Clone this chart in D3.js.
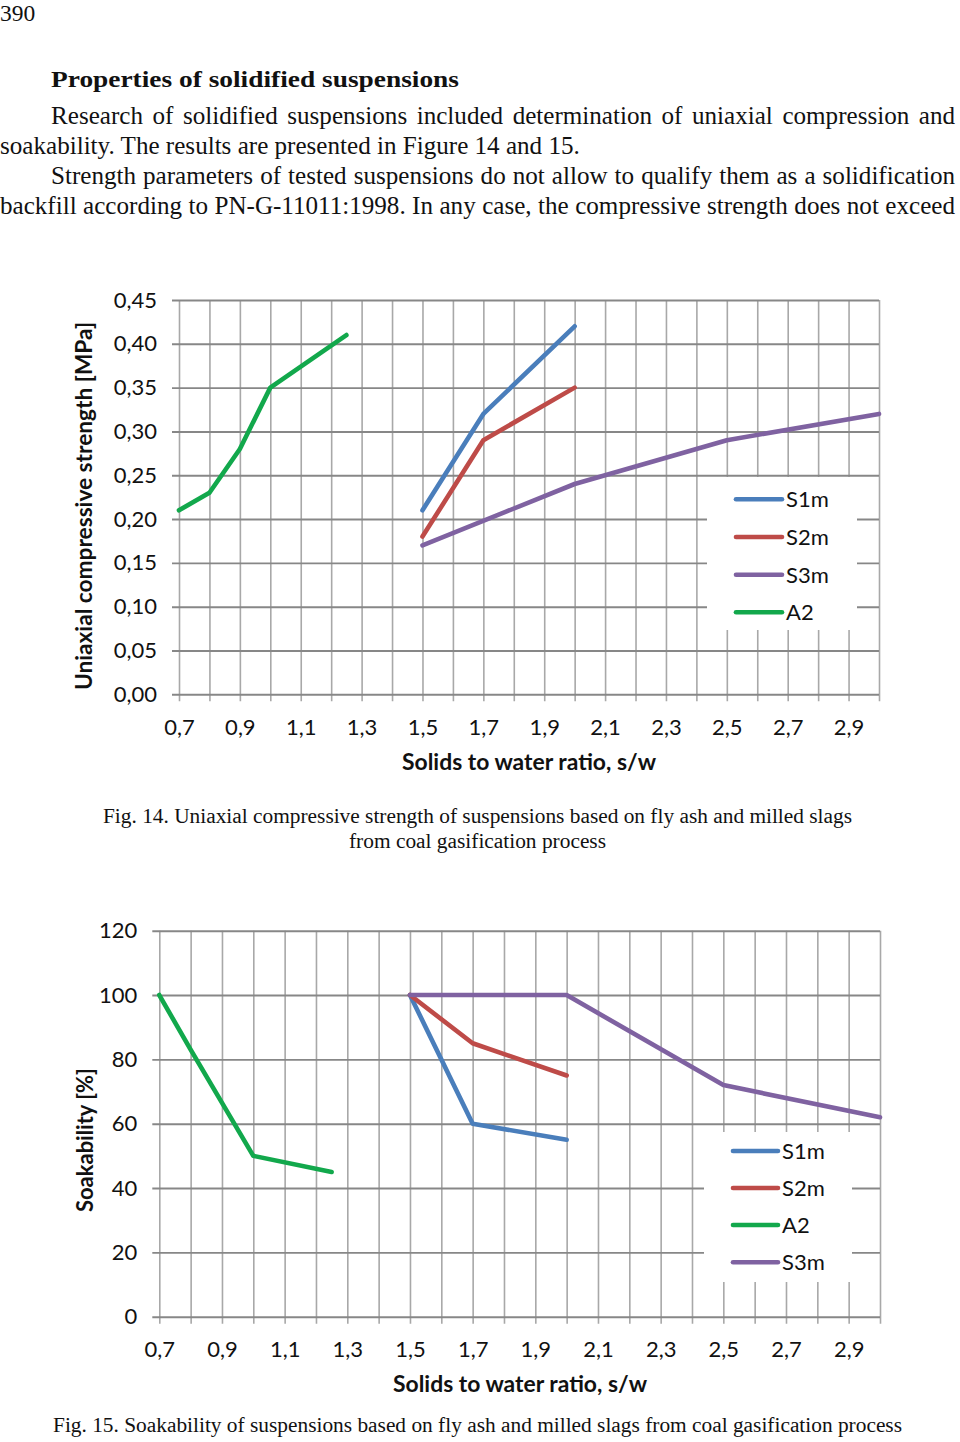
<!DOCTYPE html>
<html>
<head>
<meta charset="utf-8">
<script src="https://cdn.jsdelivr.net/npm/d3@7/dist/d3.min.js"></script>
<style>
  html, body { margin: 0; padding: 0; background: #fff; }
  svg { display: block; }
  .serif { font-family: "Liberation Serif", "DejaVu Serif", serif; fill: #111; }
  .sans { font-family: Lato, "Open Sans", sans-serif; fill: #111; }
</style>
</head>
<body>
<svg id="page" width="960" height="1442"></svg>
<script>
// ---------- DATA ----------
// Figure 14: uniaxial compressive strength [MPa] vs solids-to-water ratio
const fig14Series = ["S1m", "S2m", "S3m", "A2"];
const fig14_S1m_x = [1.5, 1.7, 2.0];
const fig14_S1m_y = [0.21, 0.32, 0.42];
const fig14_S2m_x = [1.5, 1.7, 2.0];
const fig14_S2m_y = [0.18, 0.29, 0.35];
const fig14_S3m_x = [1.5, 2.0, 2.5, 3.0];
const fig14_S3m_y = [0.17, 0.24, 0.29, 0.32];
const fig14_A2_x  = [0.7, 0.8, 0.9, 1.0, 1.25];
const fig14_A2_y  = [0.21, 0.23, 0.28, 0.35, 0.41];
const fig14YTicks = [0, 0.05, 0.10, 0.15, 0.20, 0.25, 0.30, 0.35, 0.40, 0.45];
const fig14YLabels = ["0,00","0,05","0,10","0,15","0,20","0,25","0,30","0,35","0,40","0,45"];

// Figure 15: soakability [%] vs solids-to-water ratio
const fig15Series = ["S1m", "S2m", "A2", "S3m"];
const fig15_S1m_x = [1.5, 1.7, 2.0];
const fig15_S1m_y = [100, 60, 55];
const fig15_S2m_x = [1.5, 1.7, 2.0];
const fig15_S2m_y = [100, 85, 75];
const fig15_A2_x  = [0.7, 0.8, 1.0, 1.25];
const fig15_A2_y  = [100, 83, 50, 45];
const fig15_S3m_x = [1.5, 2.0, 2.5, 3.0];
const fig15_S3m_y = [100, 100, 72, 62];
const fig15YTicks = [0, 20, 40, 60, 80, 100, 120];
const fig15YLabels = ["0","20","40","60","80","100","120"];

// shared x axis ticks
const xLabelValues = [0.7, 0.9, 1.1, 1.3, 1.5, 1.7, 1.9, 2.1, 2.3, 2.5, 2.7, 2.9];
const xLabels = ["0,7","0,9","1,1","1,3","1,5","1,7","1,9","2,1","2,3","2,5","2,7","2,9"];
const xGridValues = [0.7,0.8,0.9,1.0,1.1,1.2,1.3,1.4,1.5,1.6,1.7,1.8,1.9,2.0,2.1,2.2,2.3,2.4,2.5,2.6,2.7,2.8,2.9,3.0];

const colors = { S1m: "#4a7ebb", S2m: "#be4b48", S3m: "#7f62a1", A2: "#12a84c" };

// page text
const pageNumber = "390";
const heading = "Properties of solidified suspensions";
const bodyLines = [
  "Research of solidified suspensions included determination of uniaxial compression and",
  "soakability. The results are presented in Figure 14 and 15.",
  "Strength parameters of tested suspensions do not allow to qualify them as a solidification",
  "backfill according to PN-G-11011:1998. In any case, the compressive strength does not exceed"
];
const fig14Caption = ["Fig. 14. Uniaxial compressive strength of suspensions based on fly ash and milled slags",
                      "from coal gasification process"];
const fig15Caption = "Fig. 15. Soakability of suspensions based on fly ash and milled slags from coal gasification process";

// ---------- DRAW ----------
const svg = d3.select("#page");
svg.append("rect").attr("width", 960).attr("height", 1442).attr("fill", "#fff");

function fitWidth(sel, w) {
  sel.attr("textLength", w).attr("lengthAdjust", "spacingAndGlyphs");
  return sel;
}
function justify(sel, w) {
  const node = sel.node();
  const natural = node.getComputedTextLength();
  const spaces = (sel.text().match(/ /g) || []).length;
  if (spaces > 0) sel.attr("word-spacing", (w - natural) / spaces);
  return sel;
}

// page number
svg.append("text").attr("class", "serif").attr("x", 0).attr("y", 20.5)
  .attr("font-size", 23.5).text(pageNumber);

// heading
fitWidth(svg.append("text").attr("class", "serif").attr("x", 51).attr("y", 87)
  .attr("font-size", 24).attr("font-weight", "bold").text(heading), 408);

// body: find font size so that the unjustified line has its natural width
const bodySpec = [
  { x: 51, y: 124, w: 904 },
  { x: 0,  y: 154, w: 580 },
  { x: 51, y: 184, w: 904 },
  { x: 0,  y: 214, w: 955 }
];
const probe = svg.append("text").attr("class", "serif").attr("font-size", 24).text(bodyLines[1]);
const bodySize = 24 * 580 / probe.node().getComputedTextLength();
probe.remove();
bodyLines.forEach((t, i) => {
  const s = svg.append("text").attr("class", "serif")
    .attr("x", bodySpec[i].x).attr("y", bodySpec[i].y)
    .attr("font-size", bodySize).text(t);
  if (i !== 1) justify(s, bodySpec[i].w);
});

function drawChart(cfg) {
  const g = svg.append("g");
  const x = d3.scaleLinear().domain([0.7, 3.0]).range([cfg.left, cfg.right]);
  const y = d3.scaleLinear().domain(cfg.yDomain).range([cfg.bottom, cfg.top]);

  // vertical gridlines + ticks below axis
  const vAxis = d3.axisBottom(x).tickValues(xGridValues).tickFormat("")
    .tickSize(-(cfg.bottom + 7 - cfg.top)).tickSizeOuter(0);
  const vg = g.append("g").attr("transform", `translate(0,${cfg.bottom + 7})`).call(vAxis);
  vg.select(".domain").remove();
  vg.selectAll("line").attr("stroke", "#a8a8a8").attr("stroke-width", 1.6);

  // horizontal gridlines + ticks left of axis
  const hAxis = d3.axisLeft(y).tickValues(cfg.yTicks).tickFormat((d, i) => cfg.yLabels[i])
    .tickSize(-(cfg.right - (cfg.left - 7))).tickSizeOuter(0).tickPadding(15);
  const hg = g.append("g").attr("transform", `translate(${cfg.left - 7},0)`).call(hAxis);
  hg.select(".domain").remove();
  hg.selectAll("line").attr("stroke", "#878787").attr("stroke-width", 1.9);
  hg.selectAll("text").attr("class", "sans").attr("font-size", 22)
    .attr("font-family", "Lato, 'Open Sans', sans-serif").attr("fill", "#111");

  // x axis labels
  const xl = d3.axisBottom(x).tickValues(xLabelValues).tickFormat((d, i) => xLabels[i])
    .tickSize(0).tickPadding(0);
  const xg = g.append("g").attr("transform", `translate(0,${cfg.xLabelBaseline})`).call(xl);
  xg.select(".domain").remove();
  xg.selectAll("text").attr("dy", 0).attr("y", 0).attr("font-size", 22)
    .attr("font-family", "Lato, 'Open Sans', sans-serif").attr("fill", "#111");

  // axis titles
  fitWidth(g.append("text").attr("class", "sans").attr("x", cfg.xTitleX).attr("y", cfg.xTitleY)
    .attr("text-anchor", "middle").attr("font-size", 22).attr("font-weight", "bold")
    .text("Solids to water ratio, s/w"), 254);
  fitWidth(g.append("text").attr("class", "sans")
    .attr("transform", `translate(${cfg.yTitleX},${cfg.yTitleY}) rotate(-90)`)
    .attr("text-anchor", "middle").attr("font-size", 22).attr("font-weight", "bold")
    .text(cfg.yTitle), cfg.yTitleLen);

  // legend background
  g.append("rect").attr("x", cfg.legend.x0).attr("y", cfg.legend.y0)
    .attr("width", cfg.legend.x1 - cfg.legend.x0).attr("height", cfg.legend.y1 - cfg.legend.y0)
    .attr("fill", "#fff");

  // series
  const line = d3.line().x(d => x(d[0])).y(d => y(d[1]));
  cfg.series.forEach(s => {
    g.append("path").datum(s.xs.map((v, i) => [v, s.ys[i]]))
      .attr("d", line).attr("fill", "none").attr("stroke", colors[s.name])
      .attr("stroke-width", 4.6).attr("stroke-linecap", "round").attr("stroke-linejoin", "round");
  });

  // legend entries
  cfg.legendOrder.forEach((name, i) => {
    const yy = cfg.legend.rows[i];
    g.append("line").attr("x1", cfg.legend.lx0).attr("x2", cfg.legend.lx1)
      .attr("y1", yy).attr("y2", yy).attr("stroke", colors[name])
      .attr("stroke-width", 4.6).attr("stroke-linecap", "round");
    g.append("text").attr("class", "sans").attr("x", cfg.legend.tx).attr("y", yy + 8)
      .attr("font-size", 22).text(name);
  });
}

drawChart({
  left: 179, right: 879, top: 300, bottom: 694.3,
  yDomain: [0, 0.45], yTicks: fig14YTicks, yLabels: fig14YLabels,
  xLabelBaseline: 735, xTitleX: 529, xTitleY: 770,
  yTitle: "Uniaxial compressive strength [MPa]", yTitleX: 92, yTitleY: 506, yTitleLen: 368,
  series: [
    { name: "S1m", xs: fig14_S1m_x, ys: fig14_S1m_y },
    { name: "S2m", xs: fig14_S2m_x, ys: fig14_S2m_y },
    { name: "S3m", xs: fig14_S3m_x, ys: fig14_S3m_y },
    { name: "A2",  xs: fig14_A2_x,  ys: fig14_A2_y }
  ],
  legendOrder: fig14Series,
  legend: { x0: 707, x1: 857, y0: 477, y1: 630, lx0: 736, lx1: 782, tx: 786,
            rows: [499.3, 537, 574.7, 612.3] }
});

drawChart({
  left: 159.3, right: 880, top: 930.7, bottom: 1316.7,
  yDomain: [0, 120], yTicks: fig15YTicks, yLabels: fig15YLabels,
  xLabelBaseline: 1357, xTitleX: 520, xTitleY: 1392,
  yTitle: "Soakability [%]", yTitleX: 92.5, yTitleY: 1140, yTitleLen: 144,
  series: [
    { name: "S1m", xs: fig15_S1m_x, ys: fig15_S1m_y },
    { name: "S2m", xs: fig15_S2m_x, ys: fig15_S2m_y },
    { name: "A2",  xs: fig15_A2_x,  ys: fig15_A2_y },
    { name: "S3m", xs: fig15_S3m_x, ys: fig15_S3m_y }
  ],
  legendOrder: fig15Series,
  legend: { x0: 704, x1: 852, y0: 1132, y1: 1282, lx0: 733, lx1: 778, tx: 782,
            rows: [1151, 1188, 1225, 1262.3] }
});

// captions
fitWidth(svg.append("text").attr("class", "serif").attr("x", 103).attr("y", 823)
  .attr("font-size", 20).text(fig14Caption[0]), 749);
fitWidth(svg.append("text").attr("class", "serif").attr("x", 349).attr("y", 848)
  .attr("font-size", 20).text(fig14Caption[1]), 257);
fitWidth(svg.append("text").attr("class", "serif").attr("x", 53).attr("y", 1432)
  .attr("font-size", 20).text(fig15Caption), 849);
</script>
</body>
</html>
